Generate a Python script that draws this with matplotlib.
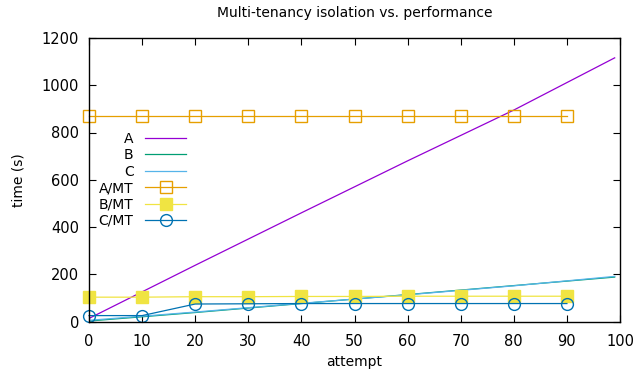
import matplotlib
matplotlib.use("Agg")
import matplotlib.pyplot as plt

# values
line_x = [0, 20, 40, 60, 80, 99]
a_vals = [13, 238, 460, 680, 895, 1116]
b_vals = [2, 38, 76, 114, 152, 188]
c_vals = [5, 40, 77, 113, 151, 191]

mt_x = [0, 10, 20, 30, 40, 50, 60, 70, 80, 90]
a_mt = [868, 868, 868, 868, 868, 868, 868, 868, 868, 868]
b_mt = [103, 103, 105, 105, 106, 106, 107, 107, 107, 107]
c_mt = [25, 25, 74, 75, 76, 76, 76, 76, 76, 76]

x_ticks = [0, 10, 20, 30, 40, 50, 60, 70, 80, 90, 100]
y_ticks = [0, 200, 400, 600, 800, 1000, 1200]

plt.rcParams["font.family"] = ["DejaVu Sans"]
plt.rcParams["font.size"] = 10

fig = plt.figure(figsize=(6.36, 3.75), dpi=100)
ax = fig.add_axes([89 / 636, 1 - 321.5 / 375, 531 / 636, 283.5 / 375])

lw = 0.9
ax.plot(line_x, a_vals, color="#9400D3", lw=lw, label="A")
ax.plot(line_x, b_vals, color="#009E73", lw=lw, label="B")
ax.plot(line_x, c_vals, color="#56B4E9", lw=lw, label="C")
ax.plot(mt_x, a_mt, color="#E69F00", lw=lw, marker="s", ms=9,
        mfc="none", mec="#E69F00", mew=1.0, label="A/MT", clip_on=False)
ax.plot(mt_x, b_mt, color="#F0E442", lw=lw, marker="s", ms=9,
        mfc="#F0E442", mec="#F0E442", label="B/MT", clip_on=False)
ax.plot(mt_x, c_mt, color="#0072B2", lw=lw, marker="o", ms=8.5,
        mfc="none", mec="#0072B2", mew=1.0, label="C/MT", clip_on=False)

ax.set_xlim(0, 100)
ax.set_ylim(0, 1200)
ax.set_xticks(x_ticks)
ax.set_yticks(y_ticks)
ax.tick_params(direction="in", top=True, right=True, length=5, width=0.8,
               labelsize=10.5)
ax.tick_params(axis="x", pad=9)
ax.tick_params(axis="y", pad=7)
for s in ax.spines.values():
    s.set_linewidth(1.0)

ax.set_xlabel("attempt", fontsize=10, labelpad=4)
ax.set_ylabel("time (s)", fontsize=10, labelpad=12)
ax.set_title("Multi-tenancy isolation vs. performance", fontsize=10, pad=15)

ax.legend(loc="upper left", bbox_to_anchor=(0.0, 0.703), frameon=False,
          markerfirst=False, handlelength=3.0, labelspacing=0.17,
          handletextpad=0.8, fontsize=10, borderaxespad=0.3)

fig.savefig("out.png", dpi=100)
